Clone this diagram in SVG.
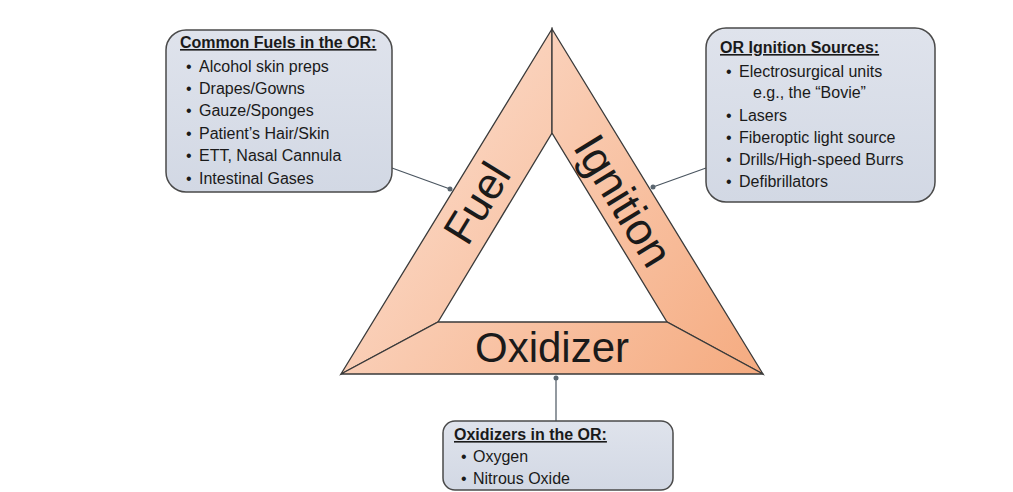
<svg xmlns="http://www.w3.org/2000/svg" width="1013" height="492" viewBox="0 0 1013 492">
<defs>
<linearGradient id="peach" gradientUnits="userSpaceOnUse" x1="400" y1="120" x2="760" y2="380">
<stop offset="0" stop-color="#fbd8c5"/>
<stop offset="1" stop-color="#f5ab80"/>
</linearGradient>
<linearGradient id="boxg" x1="0" y1="0" x2="0" y2="1">
<stop offset="0" stop-color="#dfe3ec"/>
<stop offset="1" stop-color="#d2d8e4"/>
</linearGradient>
<marker id="dot" viewBox="0 0 6 6" refX="3" refY="3" markerWidth="6" markerHeight="6" markerUnits="userSpaceOnUse">
<circle cx="3" cy="3" r="2.5" fill="#5a6670"/>
</marker>
</defs>
<style>
.box{fill:url(#boxg);stroke:#4a4a4a;stroke-width:1.5}
.t{font-family:"Liberation Sans",Arial,sans-serif;font-size:16px;fill:#1a1a1a}
.h{font-weight:bold;text-decoration:underline}
.seg{fill:url(#peach);stroke:#3a3a3a;stroke-width:1.3;stroke-linejoin:miter}
.big{font-family:"Liberation Sans",Arial,sans-serif;fill:#1a1a1a;text-anchor:middle}
.conn{stroke:#4a5560;stroke-width:1.2;fill:none}
</style>
<rect width="1013" height="492" fill="#ffffff"/>
<g id="connectors">
<line class="conn" x1="392" y1="168" x2="450" y2="189" marker-end="url(#dot)"/>
<line class="conn" x1="706" y1="168" x2="653" y2="187" marker-end="url(#dot)"/>
<line class="conn" x1="556" y1="421" x2="556" y2="378" marker-end="url(#dot)"/>
</g>
<g id="triangle">
<polygon class="seg" points="552,29 552,133 438,322 341,374"/>
<polygon class="seg" points="552,29 763,374 667,322 552,133"/>
<polygon class="seg" points="341,374 438,322 667,322 763,374"/>
</g>
<g id="fuel">
<text class="big" font-size="44" transform="translate(477,203) rotate(-58.5)" y="15">Fuel</text>
</g>
<g id="ignition">
<text class="big" font-size="45" transform="translate(623,201) rotate(58.5)" y="15">Ignition</text>
</g>
<g id="oxidizer">
<text class="big" font-size="42" x="552" y="362">Oxidizer</text>
</g>
<g id="fuels-box">
<rect class="box" x="166" y="30" width="226" height="162" rx="20"/>
<text class="t h" x="180" y="48">Common Fuels in the OR:</text>
<text class="t" x="186" y="72">•</text><text class="t" x="199" y="72">Alcohol skin preps</text>
<text class="t" x="186" y="94">•</text><text class="t" x="199" y="94">Drapes/Gowns</text>
<text class="t" x="186" y="116">•</text><text class="t" x="199" y="116">Gauze/Sponges</text>
<text class="t" x="186" y="139">•</text><text class="t" x="199" y="139">Patient’s Hair/Skin</text>
<text class="t" x="186" y="161">•</text><text class="t" x="199" y="161">ETT, Nasal Cannula</text>
<text class="t" x="186" y="184">•</text><text class="t" x="199" y="184">Intestinal Gases</text>
</g>
<g id="ignition-box">
<rect class="box" x="706" y="28" width="229" height="174" rx="20"/>
<text class="t h" x="720" y="53">OR Ignition Sources:</text>
<text class="t" x="726" y="77">•</text><text class="t" x="739" y="77">Electrosurgical units</text>
<text class="t" x="753" y="98">e.g., the “Bovie”</text>
<text class="t" x="726" y="121">•</text><text class="t" x="739" y="121">Lasers</text>
<text class="t" x="726" y="143">•</text><text class="t" x="739" y="143">Fiberoptic light source</text>
<text class="t" x="726" y="165">•</text><text class="t" x="739" y="165">Drills/High-speed Burrs</text>
<text class="t" x="726" y="187">•</text><text class="t" x="739" y="187">Defibrillators</text>
</g>
<g id="oxidizers-box">
<rect class="box" x="443" y="421" width="230" height="69" rx="12"/>
<text class="t h" x="454" y="440">Oxidizers in the OR:</text>
<text class="t" x="461" y="462">•</text><text class="t" x="473" y="462">Oxygen</text>
<text class="t" x="461" y="484">•</text><text class="t" x="473" y="484">Nitrous Oxide</text>
</g>
</svg>
